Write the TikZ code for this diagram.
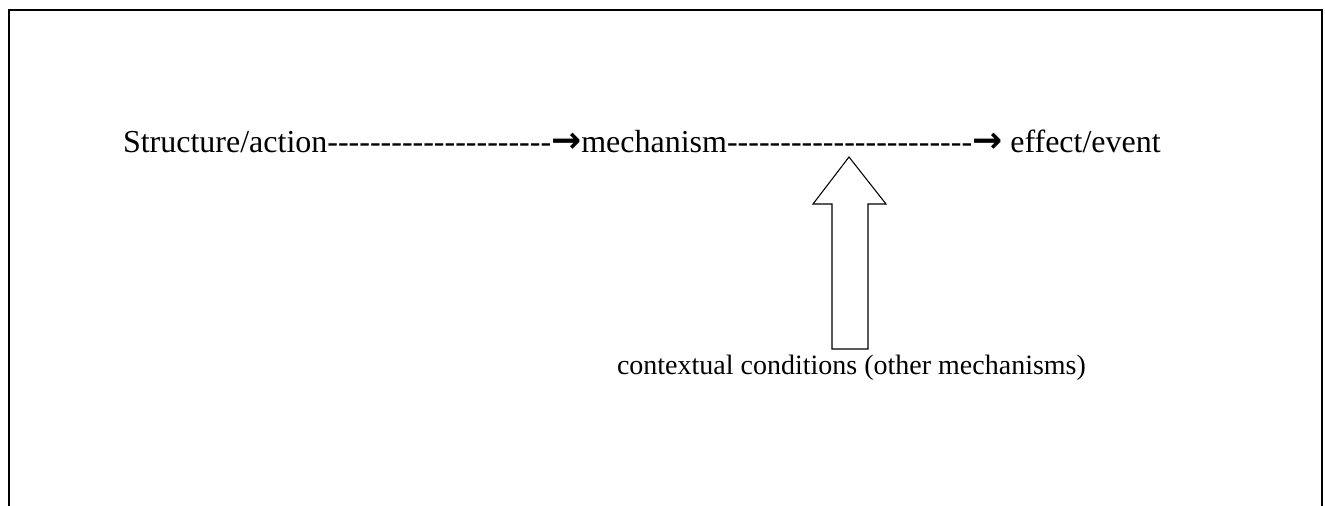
\documentclass[tikz,border=0pt]{standalone}
\usepackage{fontspec}
\setmainfont{Liberation Serif}[Ligatures=TeXOff]
\newfontfamily\arrowfont{DejaVu Sans}
\newcommand{\rarr}{{\arrowfont\bfseries\fontsize{27}{27}\selectfont →}}
\begin{document}
\begin{tikzpicture}[x=0.75pt,y=-0.75pt,
  label text/.style={inner sep=0pt,outer sep=0pt,anchor=base west},
  frame line/.style={line width=1.5pt,line cap=rect},
  block arrow/.style={draw=black,line width=0.8pt,fill=white,line join=miter}]
  \useasboundingbox (0,0) rectangle (1325,506);
  % open frame: left, top and right sides only
  \draw[frame line] (9,520) -- (9,10) -- (1322,10) -- (1322,520);
  % main chain
  \node[label text,font=\fontsize{24}{28}\selectfont] (chain) at (123,153)
    {Structure/action---------------------\rarr mechanism-----------------------\rarr{} effect/event};
  % context label
  \node[label text,font=\fontsize{21}{25}\selectfont] (context) at (617,374)
    {contextual conditions (other mechanisms)};
  % hollow block arrow pointing up at the second link
  \coordinate (tip) at (849,157);
  \coordinate (base) at (850,349);
  \draw[block arrow] (base -| 832,0) -- (832,204) -- (813,204) -- (tip)
    -- (886,204) -- (868,204) -- (base -| 868,0) -- cycle;
\end{tikzpicture}
\end{document}
